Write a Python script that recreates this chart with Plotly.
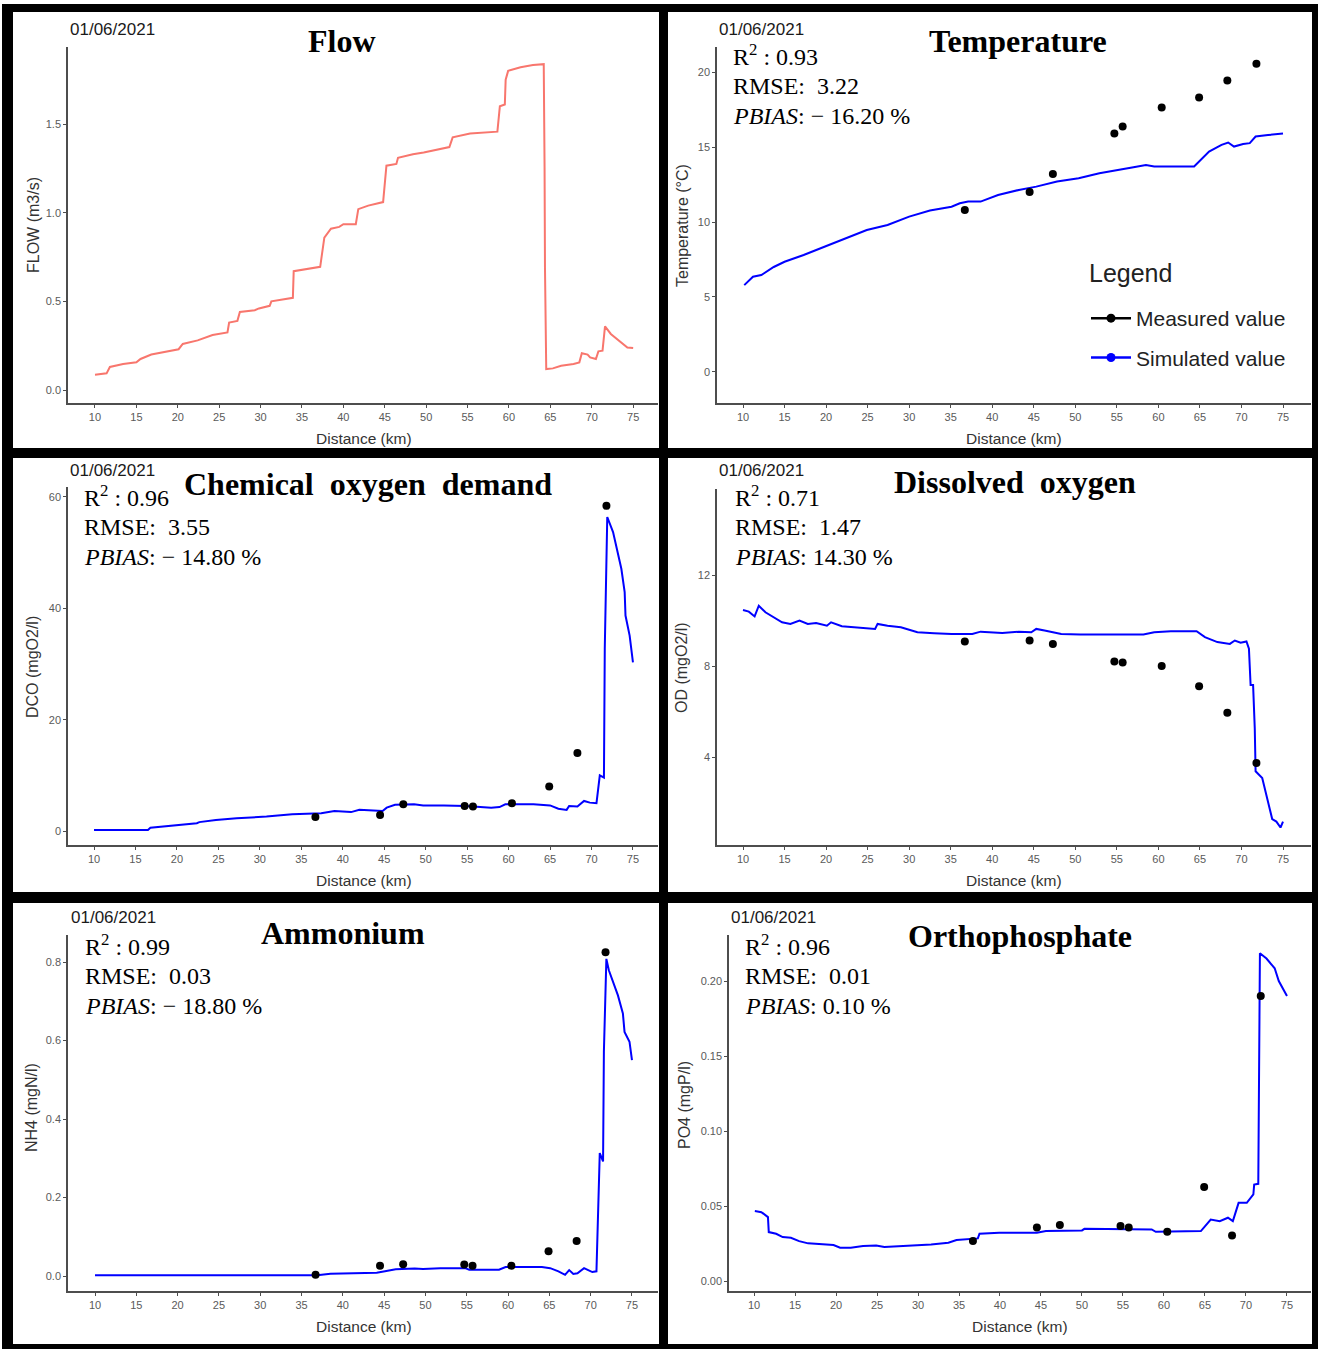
import plotly.graph_objects as go

W, H = 1328, 1352

# ---------------- data ----------------
x_ticks = [10, 15, 20, 25, 30, 35, 40, 45, 50, 55, 60, 65, 70, 75]
meas_km = [36.7, 44.5, 47.3, 54.7, 55.7, 60.4, 64.9, 68.3, 71.8]

flow_km = [10.0, 11.4, 11.8, 13.4, 15.0, 15.5, 16.8, 19.1, 20.1, 20.6, 22.4, 24.2, 26.0, 26.2, 27.2, 27.5,
           29.3, 29.8, 31.1, 31.3, 33.9, 34.0, 37.2, 37.7, 38.5, 39.5, 40.0, 41.5, 41.8, 43.0, 44.8, 45.2,
           46.4, 46.6, 48.4, 49.7, 51.2, 52.8, 53.2, 55.3, 58.6, 58.9, 59.5, 59.6, 59.9, 61.4, 62.9, 64.2,
           64.3, 64.35, 64.5, 65.3, 66.3, 67.8, 68.5, 68.8, 69.5, 69.8, 70.5, 70.8, 71.3, 71.6, 72.3, 73.3,
           74.3, 75.0]
flow_q = [0.086, 0.094, 0.13, 0.147, 0.156, 0.175, 0.20, 0.22, 0.23, 0.26, 0.28, 0.31, 0.325, 0.38, 0.39,
          0.44, 0.45, 0.46, 0.475, 0.50, 0.52, 0.67, 0.695, 0.86, 0.91, 0.92, 0.935, 0.935, 1.02, 1.04,
          1.06, 1.265, 1.275, 1.31, 1.33, 1.34, 1.353, 1.37, 1.425, 1.447, 1.457, 1.60, 1.61, 1.75, 1.80,
          1.82, 1.833, 1.838, 1.256, 0.69, 0.118, 0.122, 0.137, 0.147, 0.156, 0.207, 0.20, 0.184, 0.175,
          0.218, 0.222, 0.359, 0.316, 0.278, 0.24, 0.237]

temp_km = [10.15, 11.2, 12.2, 13.7, 15.0, 17.3, 19.8, 22.4, 24.9, 27.4, 30.0, 32.5, 35.1, 36.1, 37.1, 38.6,
           40.7, 43.2, 45.3, 47.8, 50.4, 52.9, 55.4, 57.0, 58.5, 59.5, 64.3, 65.1, 66.1, 67.6, 68.4, 69.1,
           70.2, 71.0, 71.7, 73.2, 75.0]
temp_sim = [5.79, 6.35, 6.46, 7.0, 7.35, 7.8, 8.35, 8.9, 9.47, 9.8, 10.36, 10.76, 11.02, 11.25, 11.36, 11.36,
            11.8, 12.14, 12.36, 12.7, 12.92, 13.25, 13.47, 13.65, 13.8, 13.7, 13.7, 14.14, 14.7, 15.14, 15.3,
            15.03, 15.2, 15.26, 15.7, 15.8, 15.9]
temp_meas = [10.8, 12.0, 13.2, 15.9, 16.37, 17.64, 18.3, 19.44, 20.56]

cod_km = [10.0, 16.5, 16.8, 18.1, 19.6, 22.4, 22.7, 24.7, 27.2, 29.3, 30.8, 33.9, 37.4, 39.0, 41.0, 42.0,
          44.8, 45.3, 46.3, 48.6, 49.7, 52.2, 54.8, 57.9, 58.9, 59.6, 63.0, 65.0, 66.0, 67.0, 67.3, 68.3,
          69.1, 69.8, 70.6, 71.0, 71.5, 71.6, 71.9, 72.6, 73.6, 74.0, 74.1, 74.6, 75.0]
cod_sim = [0.2, 0.2, 0.6, 0.8, 1.0, 1.4, 1.6, 2.0, 2.3, 2.4, 2.6, 3.0, 3.2, 3.6, 3.4, 3.8, 3.6, 4.2, 4.7,
           4.8, 4.6, 4.6, 4.5, 4.2, 4.3, 4.8, 4.8, 4.6, 4.0, 3.8, 4.5, 4.4, 5.4, 5.1, 5.0, 10.0, 9.6, 32.7,
           56.4, 53.7, 47.1, 42.9, 38.7, 35.1, 30.3]
cod_meas = [2.5, 2.9, 4.8, 4.5, 4.4, 5.0, 8.0, 14.0, 58.4]

do_km = [10.0, 10.7, 11.4, 11.9, 12.7, 13.7, 14.7, 15.7, 16.8, 17.8, 18.8, 20.1, 20.6, 21.9, 23.4, 24.9,
         25.9, 26.2, 27.4, 29.0, 31.0, 33.0, 35.1, 37.6, 38.6, 41.2, 43.2, 44.7, 45.3, 46.3, 48.3, 50.6,
         53.9, 58.2, 59.5, 61.5, 64.6, 65.6, 67.1, 68.6, 69.2, 69.9, 70.6, 70.9, 71.1, 71.4, 71.6, 71.7,
         72.5, 73.2, 73.7, 74.2, 74.7, 75.0]
do_sim = [10.46, 10.39, 10.18, 10.65, 10.36, 10.14, 9.92, 9.85, 10.0, 9.85, 9.89, 9.77, 9.92, 9.75, 9.70,
          9.67, 9.63, 9.85, 9.77, 9.70, 9.48, 9.44, 9.41, 9.41, 9.51, 9.45, 9.51, 9.48, 9.63, 9.56, 9.41,
          9.38, 9.38, 9.38, 9.48, 9.53, 9.53, 9.27, 9.05, 8.97, 9.12, 9.02, 9.08, 8.76, 7.16, 7.16, 5.27,
          3.37, 3.08, 2.07, 1.27, 1.16, 0.90, 1.16]
do_meas = [9.08, 9.12, 8.97, 8.2, 8.15, 8.0, 7.11, 5.95, 3.74]

nh4_km = [10.0, 36.9, 38.5, 41.8, 44.1, 45.1, 46.4, 48.7, 49.7, 51.8, 54.8, 55.3, 58.9, 59.7, 64.1, 65.1,
          66.1, 66.9, 67.4, 67.9, 68.4, 69.2, 70.2, 70.7, 70.9, 71.1, 71.5, 71.6, 71.9, 72.2, 73.3, 73.9,
          74.1, 74.7, 75.0]
nh4_sim = [0.002, 0.002, 0.006, 0.008, 0.0085, 0.012, 0.017, 0.019, 0.018, 0.020, 0.020, 0.016, 0.016,
           0.023, 0.023, 0.020, 0.012, 0.003, 0.015, 0.005, 0.007, 0.020, 0.010, 0.012, 0.164, 0.313,
           0.292, 0.571, 0.808, 0.779, 0.715, 0.669, 0.622, 0.597, 0.55]
nh4_meas = [0.003, 0.026, 0.030, 0.029, 0.026, 0.026, 0.063, 0.089, 0.825]

po4_km = [10.1, 10.9, 11.7, 11.8, 12.7, 13.5, 14.5, 15.5, 16.6, 18.6, 19.7, 20.5, 21.8, 23.3, 24.9, 25.9,
          28.0, 29.5, 31.6, 33.7, 34.7, 37.3, 37.5, 39.9, 44.5, 45.6, 50.0, 50.3, 58.5, 59.0, 64.5, 65.7,
          66.8, 67.8, 68.4, 69.1, 70.1, 70.9, 71.0, 71.5, 71.6, 71.7, 72.5, 73.5, 74.0, 74.5, 75.0]
po4_sim = [0.0466, 0.0459, 0.0426, 0.0326, 0.0315, 0.0293, 0.0288, 0.0266, 0.0251, 0.0244, 0.0240, 0.0222,
           0.0222, 0.0233, 0.0237, 0.0226, 0.0231, 0.0237, 0.0244, 0.0255, 0.0273, 0.0284, 0.0315, 0.0322,
           0.0322, 0.0333, 0.0337, 0.0348, 0.0344, 0.0328, 0.0333, 0.0410, 0.0399, 0.0422, 0.0399, 0.0521,
           0.0521, 0.0577, 0.0643, 0.0648, 0.142, 0.2185, 0.215, 0.2085, 0.200, 0.195, 0.190]
po4_meas = [0.0266, 0.0357, 0.0373, 0.0366, 0.0357, 0.0328, 0.0626, 0.0304, 0.190]

titles = ["Flow", "Temperature", "Chemical\u00a0 oxygen\u00a0 demand", "Dissolved\u00a0 oxygen",
          "Ammonium", "Orthophosphate"]
y_titles = ["FLOW (m3/s)", "Temperature (°C)", "DCO (mgO2/l)", "OD (mgO2/l)", "NH4 (mgN/l)", "PO4 (mgP/l)"]
date_label = "01/06/2021"
stats = {
    2: ["0.93", "3.22", "\u2212 16.20 %"],
    3: ["0.96", "3.55", "\u2212 14.80 %"],
    4: ["0.71", "1.47", "14.30 %"],
    5: ["0.99", "0.03", "\u2212 18.80 %"],
    6: ["0.96", "0.01", "0.10 %"],
}
y_tickvals = [[0, 0.5, 1.0, 1.5], [0, 5, 10, 15, 20], [0, 20, 40, 60], [4, 8, 12],
              [0, 0.2, 0.4, 0.6, 0.8], [0, 0.05, 0.10, 0.15, 0.20]]
y_ticktext = [["0.0", "0.5", "1.0", "1.5"], ["0", "5", "10", "15", "20"], ["0", "20", "40", "60"],
              ["4", "8", "12"], ["0.0", "0.2", "0.4", "0.6", "0.8"], ["0.00", "0.05", "0.10", "0.15", "0.20"]]

# ---------------- layout geometry (pixels) ----------------
def px(x):
    return x / W

def py(y):
    return 1 - y / H

SANS = "Liberation Sans, Arial, sans-serif"
SERIF = "Liberation Serif, Times New Roman, serif"
AX = "#4d4d4d"
BLUE = "#0000FF"

panels = [
    dict(dom=(68, 658, 47, 403), xr=[6.74, 78.0], yr=[-0.0733, 1.9346]),
    dict(dom=(717, 1311, 47, 403), xr=[6.87, 78.37], yr=[-2.07, 21.67]),
    dict(dom=(68, 658, 487, 845), xr=[6.86, 78.02], yr=[-2.51, 61.79]),
    dict(dom=(717, 1311, 489, 845), xr=[6.87, 78.37], yr=[0.132, 15.78]),
    dict(dom=(68, 658, 935, 1291), xr=[6.73, 78.15], yr=[-0.0382, 0.8688]),
    dict(dom=(729, 1311, 935, 1291), xr=[6.95, 77.93], yr=[-0.00667, 0.2307]),
]

fig = go.Figure()

sim_sets = [(flow_km, flow_q), (temp_km, temp_sim), (cod_km, cod_sim), (do_km, do_sim),
            (nh4_km, nh4_sim), (po4_km, po4_sim)]
meas_sets = [None, temp_meas, cod_meas, do_meas, nh4_meas, po4_meas]

for i in range(6):
    xa = "x" if i == 0 else f"x{i+1}"
    ya = "y" if i == 0 else f"y{i+1}"
    kx, vy = sim_sets[i]
    color = "#F8766D" if i == 0 else BLUE
    fig.add_trace(go.Scatter(x=kx, y=vy, mode="lines", line=dict(color=color, width=2),
                             xaxis=xa, yaxis=ya, showlegend=False, hoverinfo="skip"))
    if meas_sets[i] is not None:
        fig.add_trace(go.Scatter(x=meas_km, y=meas_sets[i], mode="markers",
                                 marker=dict(color="black", size=8),
                                 xaxis=xa, yaxis=ya, showlegend=False, hoverinfo="skip"))

# legend entries (in temperature panel)
fig.add_trace(go.Scatter(x=[None], y=[None], mode="lines+markers", name="Measured value",
                         line=dict(color="black", width=2.5), marker=dict(color="black", size=9),
                         xaxis="x2", yaxis="y2", legendgroup="m"))
fig.add_trace(go.Scatter(x=[None], y=[None], mode="lines+markers", name="Simulated value",
                         line=dict(color=BLUE, width=2.5), marker=dict(color=BLUE, size=9),
                         xaxis="x2", yaxis="y2", legendgroup="s"))

layout = dict(
    width=W, height=H, margin=dict(l=0, r=0, t=0, b=0),
    paper_bgcolor="white", plot_bgcolor="rgba(0,0,0,0)",
    showlegend=True,
    legend=dict(x=px(1086), y=py(298), xanchor="left", yanchor="top",
                font=dict(family=SANS, size=21, color="#222"), tracegroupgap=9,
                bgcolor="rgba(0,0,0,0)", traceorder="grouped", itemwidth=40),
)

for i, p in enumerate(panels):
    l, r, t, b = p["dom"]
    xk = "xaxis" if i == 0 else f"xaxis{i+1}"
    yk = "yaxis" if i == 0 else f"yaxis{i+1}"
    xa = "x" if i == 0 else f"x{i+1}"
    ya = "y" if i == 0 else f"y{i+1}"
    layout[xk] = dict(domain=[px(l), px(r)], range=p["xr"], anchor=ya,
                      tickmode="array", tickvals=x_ticks, ticktext=[str(v) for v in x_ticks],
                      showline=True, linecolor=AX, linewidth=1.5, ticks="outside", ticklen=3,
                      tickcolor=AX, tickwidth=1, tickfont=dict(family=SANS, size=11, color="#5a5a5a"),
                      showgrid=False, zeroline=False, fixedrange=True)
    layout[yk] = dict(domain=[py(b), py(t)], range=p["yr"], anchor=xa,
                      tickmode="array", tickvals=y_tickvals[i], ticktext=y_ticktext[i],
                      showline=True, linecolor=AX, linewidth=1.5, ticks="outside", ticklen=3,
                      tickcolor=AX, tickwidth=1, tickfont=dict(family=SANS, size=11, color="#5a5a5a"),
                      showgrid=False, zeroline=False, fixedrange=True)

# frame shapes
shapes = [dict(type="rect", xref="paper", yref="paper", x0=px(2), x1=px(1318), y0=py(1349), y1=py(4),
               fillcolor="black", line=dict(width=0), layer="below")]
white_panels = [(13, 659, 12, 448), (668, 1312, 12, 448), (13, 659, 458, 892),
                (668, 1312, 458, 892), (13, 659, 903, 1344), (668, 1312, 903, 1344)]
for (x0, x1, y0, y1) in white_panels:
    shapes.append(dict(type="rect", xref="paper", yref="paper", x0=px(x0), x1=px(x1), y0=py(y1), y1=py(y0),
                       fillcolor="white", line=dict(width=0), layer="below"))
layout["shapes"] = shapes

ann = []
def A(text, x, y, size, family=SANS, xanchor="left", color="#111", angle=0, **kw):
    ann.append(dict(text=text, x=px(x), y=py(y), xref="paper", yref="paper", showarrow=False,
                    xanchor=xanchor, yanchor="middle", textangle=angle,
                    font=dict(family=family, size=size, color=color), **kw))

date_pos = [(68, 29), (717, 29), (68, 471), (717, 471), (69, 917), (729, 917)]
title_pos = [(342, 41), (1018, 41), (368, 484), (1015, 482), (343, 933), (1020, 936)]
ytitle_pos = [(33, 225), (682, 225), (33, 667), (682, 667), (31, 1108), (684, 1105)]
xtitle_pos = [(364, 438), (1014, 438), (364, 880), (1014, 880), (364, 1326), (1020, 1326)]
stat_pos = {2: (731, 55), 3: (82, 496), 4: (733, 496), 5: (83, 945), 6: (743, 945)}

for i in range(6):
    A(date_label, *date_pos[i], 17, color="#1a1a1a")
    A(f"<b>{titles[i]}</b>", *title_pos[i], 32, family=SERIF, xanchor="center", color="black")
    A(y_titles[i], *ytitle_pos[i], 16, xanchor="center", color="#333", angle=-90)
    A("Distance (km)", *xtitle_pos[i], 15.5, xanchor="center", color="#333")

for k, (r2, rmse, pb) in stats.items():
    x0, y0 = stat_pos[k]
    A(f"R<sup>2</sup> : {r2}", x0, y0, 24, family=SERIF, color="black")
    A(f"RMSE:  {rmse}", x0, y0 + 31, 24, family=SERIF, color="black")
    A(f"<i>PBIAS</i>: {pb}", x0, y0 + 61, 24, family=SERIF, color="black")

A("Legend", 1087, 273, 25, color="#222")

layout["annotations"] = ann
fig.update_layout(**layout)
fig.write_html("out.html", config={"displayModeBar": False},
               post_script="document.body.style.margin='0';document.body.style.overflow='hidden';")
